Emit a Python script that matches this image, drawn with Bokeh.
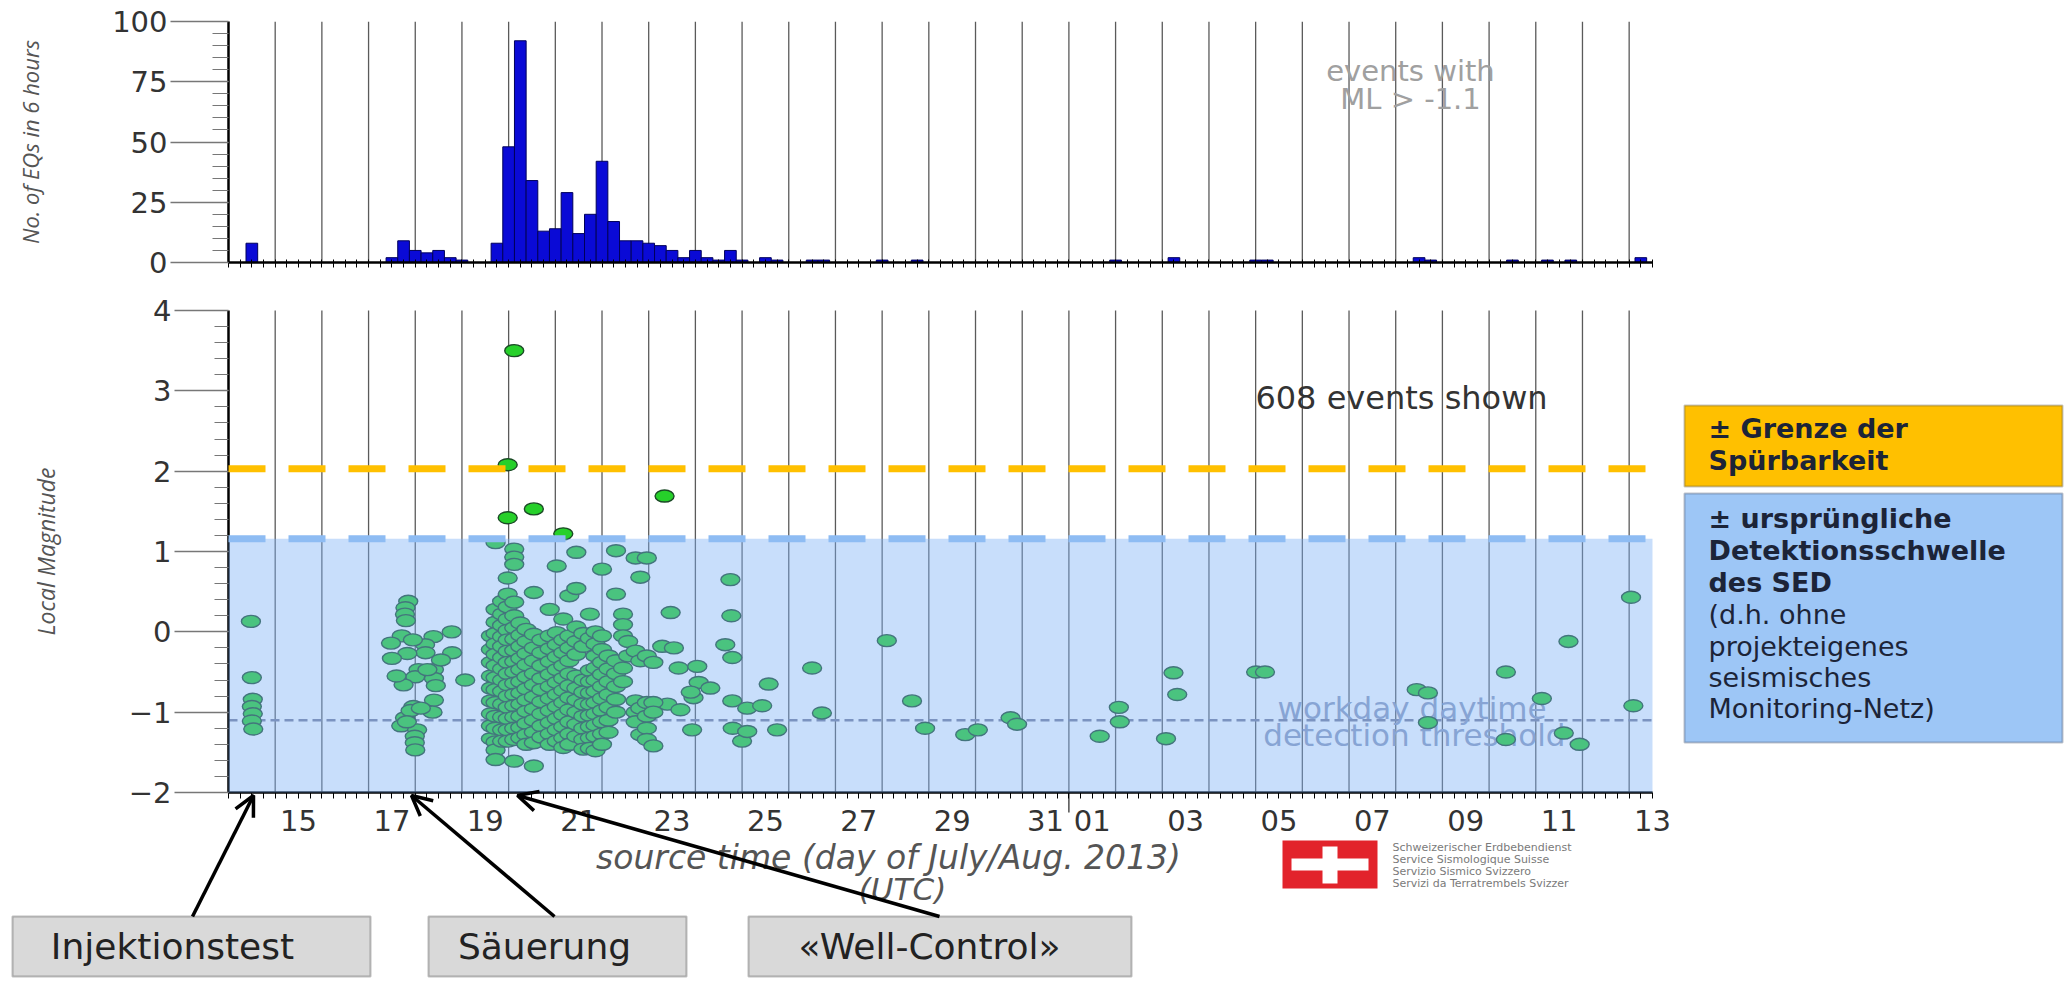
from bokeh.plotting import figure
from bokeh.layouts import column
from bokeh.models import (Range1d, FixedTicker, BoxAnnotation, Label, Arrow,
                          OpenHead, CustomJSTickFormatter)
from bokeh.embed import file_html
from bokeh.resources import INLINE
from bokeh.core.properties import value

# ---------------- data ----------------
# histogram: 6-hour bins (bin centre in day-of-July, Aug 1 = 32)
HIST_T = [14.5, 17.5, 17.75, 18.0, 18.25, 18.5, 18.75, 19.0, 19.75, 20.0, 20.25, 20.5,
          20.75, 21.0, 21.25, 21.5, 21.75, 22.0, 22.25, 22.5, 22.75, 23.0, 23.25, 23.5,
          23.75, 24.0, 24.25, 24.5, 24.75, 25.0, 25.5, 25.75, 26.5, 26.75, 28.0, 28.75,
          33.0, 34.25, 36.0, 36.25, 39.5, 39.75, 41.5, 42.25, 42.75, 44.25]
HIST_N = [8, 2, 9, 5, 4, 5, 2, 1, 8, 48, 92, 34,
          13, 14, 29, 12, 20, 42, 17, 9, 9, 8, 7, 5,
          2, 5, 2, 1, 5, 1, 2, 1, 1, 1, 1, 1,
          1, 2, 1, 1, 2, 1, 1, 1, 1, 2]

# injection test (14 July)
INJ_T = [14.48, 14.50, 14.52, 14.50, 14.52, 14.50, 14.53]
INJ_ML = [0.13, -0.57, -0.84, -0.93, -1.02, -1.11, -1.21]

# acidising (17-19 July)
ACID_T = [17.85, 17.79, 17.78, 17.80, 17.71, 17.48, 18.78, 18.39, 18.21, 18.22, 17.83,
          17.50, 18.79, 18.07, 18.40, 18.00, 18.40, 17.75, 18.44, 19.07, 18.40, 17.96,
          18.37, 17.78, 17.70, 18.04, 17.99, 17.99, 18.00, 17.90, 17.82, 18.12, 18.26,
          17.95, 17.60, 18.55]
ACID_ML = [0.38, 0.30, 0.22, 0.14, -0.05, -0.14, 0.00, -0.06, -0.16, -0.26, -0.27,
           -0.33, -0.26, -0.47, -0.47, -0.56, -0.58, -0.66, -0.67, -0.60, -0.85, -0.93,
           -1.00, -1.07, -1.17, -1.22, -1.30, -1.38, -1.47, -0.98, -1.12, -0.95, -0.47,
           -0.10, -0.55, -0.35]

# well control (19.6 - 23.2 July), read column by column
WELL_COL_T = [19.62, 19.72, 19.86, 19.98, 20.12, 20.25, 20.38, 20.54, 20.70, 20.88,
              21.03, 21.17, 21.30, 21.45, 21.60, 21.74, 21.86, 22.00, 22.14, 22.30,
              22.45, 22.56, 22.72, 22.82, 22.96, 23.10]
WELL_COL_ML = [
    [-0.05, -0.22, -0.38, -0.55, -0.70, -0.86, -1.02, -1.17, -1.33],
    [1.11, 0.28, 0.12, -0.02, -0.15, -0.28, -0.42, -0.57, -0.72, -0.88, -1.05, -1.20, -1.37, -1.47, -1.59],
    [0.38, 0.22, 0.08, -0.06, -0.18, -0.32, -0.46, -0.60, -0.74, -0.90, -1.06, -1.22, -1.36],
    [2.08, 1.42, 0.67, 0.47, 0.31, 0.16, 0.02, -0.10, -0.24, -0.38, -0.52, -0.66, -0.80, -0.94, -1.08, -1.22, -1.36],
    [3.50, 1.03, 0.93, 0.84, 0.37, 0.20, 0.05, -0.09, -0.23, -0.37, -0.50, -0.64, -0.78, -0.92, -1.06, -1.20, -1.34, -1.61],
    [0.11, -0.04, -0.18, -0.33, -0.47, -0.62, -0.76, -0.90, -1.05, -1.19, -1.32],
    [0.03, -0.12, -0.27, -0.41, -0.56, -0.71, -0.85, -0.99, -1.14, -1.28, -1.40],
    [1.53, 0.49, -0.03, -0.20, -0.36, -0.52, -0.66, -0.81, -0.96, -1.10, -1.25, -1.38, -1.67],
    [-0.10, -0.26, -0.42, -0.58, -0.72, -0.87, -1.02, -1.17, -1.31],
    [0.28, -0.05, -0.21, -0.37, -0.53, -0.68, -0.83, -0.98, -1.13, -1.27, -1.40],
    [0.82, -0.01, -0.16, -0.31, -0.47, -0.63, -0.78, -0.93, -1.08, -1.22, -1.36],
    [1.22, 0.16, -0.10, -0.26, -0.42, -0.58, -0.73, -0.88, -1.03, -1.18, -1.32, -1.44],
    [0.45, -0.05, -0.20, -0.36, -0.52, -0.67, -0.82, -0.97, -1.12, -1.27, -1.40],
    [0.99, 0.54, 0.06, -0.12, -0.28, -0.55, -0.70, -0.85, -1.00, -1.15, -1.30],
    [-0.02, -0.18, -0.60, -0.75, -0.90, -1.05, -1.20, -1.34, -1.46],
    [0.22, -0.08, -0.48, -0.62, -0.76, -0.90, -1.04, -1.18, -1.32, -1.45],
    [0.00, -0.15, -0.30, -0.45, -0.60, -0.74, -0.88, -1.02, -1.16, -1.30, -1.48],
    [0.78, -0.05, -0.22, -0.38, -0.53, -0.68, -0.83, -0.98, -1.12, -1.27, -1.40],
    [-0.30, -0.46, -0.62, -0.78, -0.94, -1.10, -1.25],
    [1.01, 0.47, -0.36, -0.52, -0.68, -0.84, -1.00],
    [0.22, 0.09, -0.05, -0.45, -0.62],
    [-0.12, -0.30],
    [0.92, -0.24, -0.86, -1.00, -1.12],
    [0.68, -0.36, -0.95, -1.28],
    [0.92, -0.30, -0.88, -1.05, -1.20, -1.34],
    [-0.38, -0.88, -1.00, -1.42],
]

# later, sparse events
LATE_T = [23.34, 23.29, 23.47, 23.54, 23.40, 23.64, 23.68, 23.93, 23.96, 24.04, 24.07,
          23.90, 24.32, 24.64, 24.75, 24.77, 24.79, 24.79, 24.80, 25.00, 25.11, 25.11,
          25.43, 25.57, 25.75, 26.50, 26.71, 28.10, 28.64, 28.92, 29.78, 30.05, 30.75,
          30.89, 32.66, 33.07, 33.09, 34.08, 34.24, 34.32, 36.01, 36.20, 39.45, 39.69,
          39.69, 41.36, 41.36, 42.13, 42.60, 42.70, 42.94, 44.04, 44.09]
LATE_ML = [1.69, -0.18, 0.24, -0.20, -0.90, -0.45, -0.97, -1.22, -0.82, -0.43, -0.63,
           -0.75, -0.70, -0.16, 0.65, 0.20, -0.32, -0.86, -1.20, -1.36, -0.95, -1.24,
           -0.92, -0.65, -1.22, -0.45, -1.01, -0.11, -0.86, -1.20, -1.28, -1.22, -1.07,
           -1.15, -1.30, -0.94, -1.12, -1.33, -0.51, -0.78, -0.50, -0.50, -0.72, -0.76,
           -1.13, -0.50, -1.34, -0.83, -1.26, -0.12, -1.40, 0.43, -0.92]

# axis ticks / labels
DAY_LINES = list(range(15, 45))
TICK_POS = [15.5, 17.5, 19.5, 21.5, 23.5, 25.5, 27.5, 29.5, 31.5, 32.5, 34.5, 36.5,
            38.5, 40.5, 42.5, 44.5]
TICK_LAB = ["15", "17", "19", "21", "23", "25", "27", "29", "31", "01", "03", "05",
            "07", "09", "11", "13"]
SIX_HOURS = [14 + 0.25 * i for i in range(123)]
MONTH_START = 32

FELT_LIMIT = 2.03          # ± Grenze der Spuerbarkeit
SED_THRESHOLD = 1.16       # original SED detection threshold
WORKDAY_THRESHOLD = -1.1   # workday daytime detection threshold
ML_MIN, ML_MAX = -2, 4
T_MIN, T_MAX = 14.0, 44.5

# ---------------- layout constants (page pixels) ----------------
PAGE_W, PAGE_H = 2064, 981
FRAME_L = 228          # left edge of both plot areas
FW = 1424
PXD = FW / (T_MAX - T_MIN)
H_TOP, H_FH, H_BOT = 21, 241, 28
S_TOP_PAGE = H_TOP + H_FH + H_BOT          # scatter figure starts here (290)
S_FRAME_TOP = 310                          # ML = 4 on the page
UPY = 482 / (ML_MAX - ML_MIN)


def X(px):  # page x -> time
    return T_MIN + (px - FRAME_L) / PXD


def YS(py):  # page y -> magnitude axis of the scatter figure
    return ML_MAX - (py - S_FRAME_TOP) / UPY


def YH(py):  # page y -> histogram count axis
    return 100 - (py - H_TOP) / (H_FH / 100.0)


SANS = "DejaVu Sans"
BOXF = "DejaVu Sans"

xfmt = CustomJSTickFormatter(args=dict(pos=TICK_POS, lab=TICK_LAB), code="""
const i = pos.findIndex(p => Math.abs(p - tick) < 1e-6);
return i >= 0 ? lab[i] : '';
""")
yfmt = CustomJSTickFormatter(code="""
return tick < 0 ? '\\u2212' + Math.abs(tick) : tick.toString();
""")

# ---------------- histogram ----------------
h = figure(frame_width=FW, frame_height=H_FH, x_range=Range1d(T_MIN, T_MAX),
           y_range=Range1d(0, 100), output_backend="svg", toolbar_location=None,
           min_border_left=FRAME_L, min_border_right=PAGE_W - FRAME_L - FW,
           min_border_top=H_TOP, min_border_bottom=H_BOT, frame_align=False,
           outline_line_color=None, background_fill_color="white", border_fill_color="white")
h.grid.visible = False
h.segment(x0=DAY_LINES, y0=0, x1=DAY_LINES, y1=100, line_color="#5a5a5a", line_width=1.3)
h.vbar(x=HIST_T, top=HIST_N, width=0.25, fill_color="#0a0ad6", line_color="#00005a",
       line_width=1)

h.yaxis.ticker = FixedTicker(ticks=[0, 25, 50, 75, 100], minor_ticks=list(range(0, 101, 5)))
h.yaxis.major_tick_out = 58
h.yaxis.major_tick_in = 0
h.yaxis.minor_tick_out = 16
h.yaxis.minor_tick_in = 0
h.yaxis.major_tick_line_color = "#777777"
h.yaxis.minor_tick_line_color = "#777777"
h.yaxis.major_tick_line_width = 1.5
h.yaxis.axis_line_color = "black"
h.yaxis.axis_line_width = 2.5
h.yaxis.major_label_text_font = SANS
h.yaxis.major_label_text_font_size = "29px"
h.yaxis.major_label_text_color = "#333333"
h.yaxis.major_label_standoff = 3
h.yaxis.axis_label = "No. of EQs in 6 hours"
h.yaxis.axis_label_text_font = "Open Sans"
h.yaxis.axis_label_text_font_style = "italic"
h.yaxis.axis_label_text_font_size = "22px"
h.yaxis.axis_label_text_color = "#555555"
h.yaxis.axis_label_standoff = 64

h.xaxis.ticker = FixedTicker(ticks=[], minor_ticks=SIX_HOURS)
h.xaxis.axis_line_color = "black"
h.xaxis.axis_line_width = 2.5
h.xaxis.minor_tick_in = 3
h.xaxis.minor_tick_out = 5
h.xaxis.minor_tick_line_color = "black"
h.xaxis.major_label_text_font_size = "1px"

for txt, py in [("events with", 70), ("ML > -1.1", 98)]:
    h.add_layout(Label(x=X(1410), y=YH(py), text=txt, text_align="center",
                       text_baseline="middle", text_font=SANS, text_font_size="29px",
                       text_color="#a0a0a0"))

# ---------------- scatter (frame covers the whole lower page) ----------------
S_H = PAGE_H - S_TOP_PAGE
p = figure(frame_width=PAGE_W, frame_height=S_H,
           x_range=Range1d(X(0), X(PAGE_W)),
           y_range=Range1d(YS(PAGE_H), YS(S_TOP_PAGE)),
           output_backend="svg", toolbar_location=None, frame_align=False,
           min_border_left=0, min_border_right=0, min_border_top=0, min_border_bottom=0,
           outline_line_color=None, background_fill_color="white", border_fill_color="white")
p.grid.visible = False

# day lines, workday threshold and its caption (below the events)
p.segment(x0=DAY_LINES, y0=ML_MIN, x1=DAY_LINES, y1=ML_MAX, line_color="#5a5a5a", line_width=1.3)
p.segment(x0=[MONTH_START], y0=[ML_MIN], x1=[MONTH_START], y1=[YS(812)], line_color="#333333",
          line_width=1.3)
p.segment(x0=[T_MIN], y0=[WORKDAY_THRESHOLD], x1=[T_MAX], y1=[WORKDAY_THRESHOLD],
          line_color="#7a7f9a", line_width=2.5, line_dash="9 5")
p.text(x=[39.35, 39.4], y=[WORKDAY_THRESHOLD + 0.15, WORKDAY_THRESHOLD - 0.19],
       text=["workday daytime", "detection threshold"], text_align="center",
       text_baseline="middle", text_font=value(SANS), text_font_size="31px",
       text_color="#8f9cbc")

eq_t = INJ_T + ACID_T + LATE_T
eq_ml = INJ_ML + ACID_ML + LATE_ML
for t, col in zip(WELL_COL_T, WELL_COL_ML):
    eq_t += [t] * len(col)
    eq_ml += col
p.ellipse(x=eq_t, y=eq_ml, width=19, height=12, width_units="screen", height_units="screen",
          fill_color="#26d02a", line_color="#1b4a26", line_width=1.4)

# shaded "below original SED threshold" region (tints the events)
p.add_layout(BoxAnnotation(left=T_MIN, right=T_MAX, bottom=ML_MIN, top=SED_THRESHOLD,
                           fill_color="#7db0f5", fill_alpha=0.42, line_color=None))
r1 = p.segment(x0=[T_MIN], y0=[SED_THRESHOLD], x1=[T_MAX], y1=[SED_THRESHOLD],
               line_color="#8ebcf3", line_width=7, line_dash="37 23")
r2 = p.segment(x0=[T_MIN], y0=[FELT_LIMIT], x1=[T_MAX], y1=[FELT_LIMIT],
               line_color="#ffc000", line_width=7, line_dash="37 23")
r1.level = "overlay"
r2.level = "overlay"

p.yaxis.fixed_location = T_MIN
p.yaxis.bounds = (ML_MIN, ML_MAX)
p.yaxis.ticker = FixedTicker(ticks=[-2, -1, 0, 1, 2, 3, 4],
                             minor_ticks=[-2 + 0.2 * i for i in range(31)])
p.yaxis.formatter = yfmt
p.yaxis.major_tick_out = 54
p.yaxis.major_tick_in = 0
p.yaxis.minor_tick_out = 14
p.yaxis.minor_tick_in = 0
p.yaxis.major_tick_line_color = "#777777"
p.yaxis.minor_tick_line_color = "#777777"
p.yaxis.major_tick_line_width = 1.5
p.yaxis.axis_line_color = "black"
p.yaxis.axis_line_width = 2.5
p.yaxis.major_label_text_font = SANS
p.yaxis.major_label_text_font_size = "29px"
p.yaxis.major_label_text_color = "#333333"
p.yaxis.major_label_standoff = 3
p.yaxis.axis_label = "Local Magnitude"
p.yaxis.axis_label_text_font = "Open Sans"
p.yaxis.axis_label_text_font_style = "italic"
p.yaxis.axis_label_text_font_size = "23px"
p.yaxis.axis_label_text_color = "#555555"
p.yaxis.axis_label_standoff = 64

p.xaxis.fixed_location = ML_MIN
p.xaxis.bounds = (T_MIN, T_MAX)
p.xaxis.ticker = FixedTicker(ticks=TICK_POS, minor_ticks=SIX_HOURS)
p.xaxis.formatter = xfmt
p.xaxis.axis_line_color = "black"
p.xaxis.axis_line_width = 2.5
p.xaxis.major_tick_out = 0
p.xaxis.major_tick_in = 0
p.xaxis.minor_tick_in = 0
p.xaxis.minor_tick_out = 6
p.xaxis.minor_tick_line_color = "black"
p.xaxis.major_label_text_font = SANS
p.xaxis.major_label_text_font_size = "29px"
p.xaxis.major_label_text_color = "#333333"
p.xaxis.major_label_standoff = 11

p.add_layout(Label(x=X(1401), y=YS(397), text="608 events shown", text_align="center",
                   text_baseline="middle", text_font=SANS, text_font_size="32px",
                   text_color="#333333"))

# x axis title
p.add_layout(Label(x=X(888), y=YS(857), text="source time (day of July/Aug. 2013)",
                   text_align="center", text_baseline="middle", text_font=SANS,
                   text_font_style="italic", text_font_size="33px", text_color="#555555"))
p.add_layout(Label(x=X(902), y=YS(888), text="(UTC)", text_align="center",
                   text_baseline="middle", text_font=SANS, text_font_style="italic",
                   text_font_size="31px", text_color="#555555"))

# SED logo
p.add_layout(BoxAnnotation(left=X(1282), right=X(1377), top=YS(840), bottom=YS(888),
                           fill_color="#e2232b", fill_alpha=1, line_color=None))
p.add_layout(BoxAnnotation(left=X(1291), right=X(1368), top=YS(858), bottom=YS(870),
                           fill_color="white", fill_alpha=1, line_color=None))
p.add_layout(BoxAnnotation(left=X(1322), right=X(1337), top=YS(846), bottom=YS(883),
                           fill_color="white", fill_alpha=1, line_color=None))
for txt, py in [("Schweizerischer Erdbebendienst", 847), ("Service Sismologique Suisse", 859),
                ("Servizio Sismico Svizzero", 871), ("Servizi da Terratrembels Svizzer", 883)]:
    p.add_layout(Label(x=X(1392), y=YS(py), text=txt, text_align="left", text_baseline="middle",
                       text_font=SANS, text_font_size="11px", text_color="#7a7a7a"))

# right-hand legend boxes
p.add_layout(BoxAnnotation(left=X(1684), right=X(2062), top=YS(405), bottom=YS(486),
                           fill_color="#ffc000", fill_alpha=1, line_color="#3a3a3a",
                           line_width=2))
p.add_layout(BoxAnnotation(left=X(1684), right=X(2062), top=YS(493), bottom=YS(742),
                           fill_color="#9dc6f6", fill_alpha=1, line_color="#2a3550",
                           line_width=2))
for txt, py, st in [("± Grenze der", 428, "bold"), ("Spürbarkeit", 460, "bold"),
                    ("± ursprüngliche", 518, "bold"), ("Detektionsschwelle", 550, "bold"),
                    ("des SED", 582, "bold"), ("(d.h. ohne", 614, "normal"),
                    ("projekteigenes", 646, "normal"), ("seismisches", 677, "normal"),
                    ("Monitoring-Netz)", 708, "normal")]:
    p.add_layout(Label(x=X(1708), y=YS(py), text=txt, text_align="left", text_baseline="middle",
                       text_font=BOXF, text_font_style=st, text_font_size="27px",
                       text_color="#1c2438"))

# bottom phase boxes with arrows
for txt, l, r, cx in [("Injektionstest", 12, 370, 172), ("Säuerung", 428, 686, 544),
                      ("«Well-Control»", 748, 1131, 929)]:
    p.add_layout(BoxAnnotation(left=X(l), right=X(r), top=YS(916), bottom=YS(976),
                               fill_color="#d9d9d9", fill_alpha=1, line_color="#2b2b2b",
                               line_width=2))
    p.add_layout(Label(x=X(cx), y=YS(946), text=txt, text_align="center",
                       text_baseline="middle", text_font=BOXF, text_font_size="36px",
                       text_color="#222222"))
for sx, sy, ex, ey in [(192, 916, 253, 795), (554, 916, 411, 795), (939, 916, 517, 795)]:
    p.add_layout(Arrow(x_start=X(sx), y_start=YS(sy), x_end=X(ex), y_end=YS(ey),
                       line_color="black", line_width=3.5,
                       end=OpenHead(size=20, line_width=3.5, line_color="black")))

layout = column(h, p, spacing=0)
open("out.html", "w").write(file_html(layout, INLINE))
